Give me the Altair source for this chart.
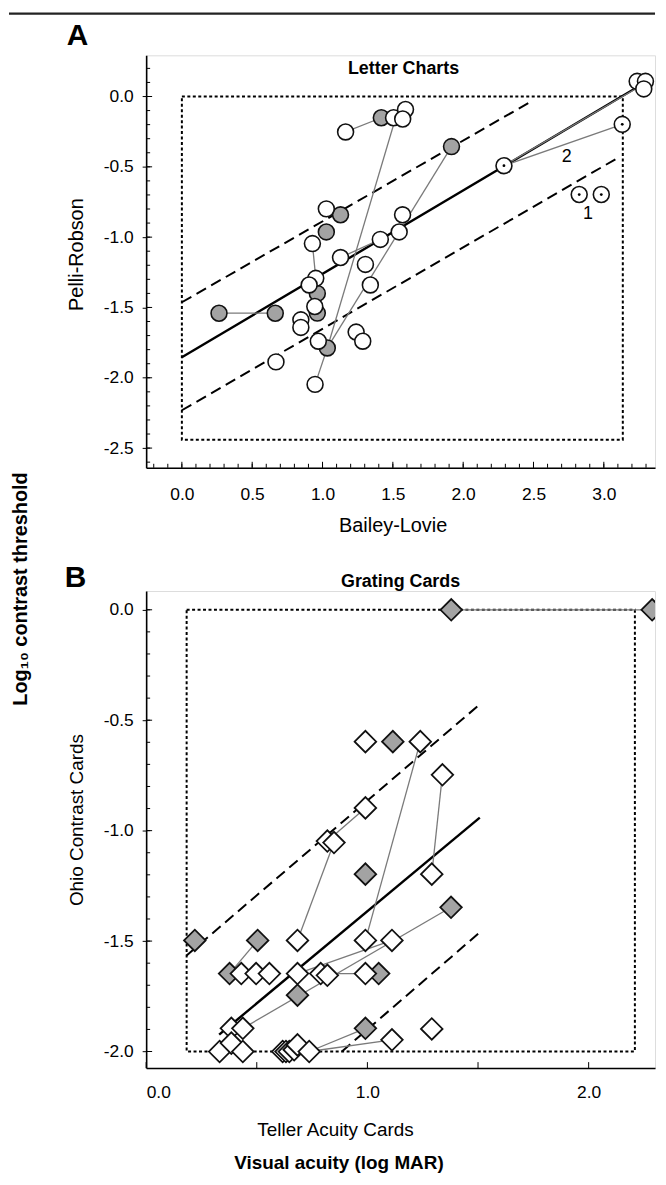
import altair as alt
import pandas as pd

FONT = "Liberation Sans"

# ---------------- Panel A : Letter Charts ----------------
a_white_x = [1.164, 1.505, 1.590, 1.570, 1.027, 1.411, 1.545, 1.569, 0.928, 1.128, 1.305, 1.340,
             0.952, 0.905, 0.945, 0.846, 0.846, 0.970, 1.239, 1.286, 0.669, 0.947, 3.237, 3.296, 3.284]
a_white_y = [-0.252, -0.151, -0.092, -0.160, -0.799, -1.016, -0.963, -0.841, -1.046, -1.145, -1.194, -1.340,
             -1.293, -1.340, -1.493, -1.588, -1.642, -1.740, -1.675, -1.740, -1.887, -2.047, 0.108, 0.108, 0.054]
a_grey_x = [1.418, 1.917, 1.128, 1.027, 0.963, 0.963, 0.264, 0.664, 1.034]
a_grey_y = [-0.151, -0.356, -0.841, -0.963, -1.400, -1.540, -1.541, -1.541, -1.788]
a_dot_x = [2.290, 3.131, 2.825, 2.982]
a_dot_y = [-0.492, -0.198, -0.697, -0.697]
a_seg_x1 = [1.164, 1.520, 1.917, 0.947, 0.264, 0.928, 1.128, 2.290, 2.290]
a_seg_y1 = [-0.252, -0.151, -0.356, -2.047, -1.541, -1.046, -1.145, -0.492, -0.492]
a_seg_x2 = [1.418, 1.034, 1.034, 1.034, 0.664, 0.952, 1.411, 3.131, 3.270]
a_seg_y2 = [-0.151, -1.788, -1.788, -1.788, -1.541, -1.293, -1.016, -0.198, 0.080]
a_fit_slope = [0.593, 0.575, 0.579]
a_fit_icpt = [-1.854, -1.463, -2.231]
a_fit_x0 = [0.0, 0.0, 0.0]
a_fit_x1 = [3.225, 2.488, 3.107]
a_fit_kind = ["solid", "dashed", "dashed"]
a_box = [0.0, 3.135, -2.44, 0.0]
a_note_x = [2.737, 2.888]
a_note_y = [-0.433, -0.834]
a_note_t = ["2", "1"]
a_xticks = [0.0, 0.5, 1.0, 1.5, 2.0, 2.5, 3.0]
a_yticks = [-2.5, -2.0, -1.5, -1.0, -0.5, 0.0]
a_xminor = [round(-0.2 + 0.1 * i, 1) for i in range(36)]
a_yminor = [round(-2.6 + 0.1 * i, 1) for i in range(29)]

# ---------------- Panel B : Grating Cards ----------------
b_white_x = [0.991, 1.239, 1.339, 0.991, 0.819, 0.849, 1.291, 0.684, 0.991, 1.111, 0.430, 0.497, 0.557,
             0.684, 0.789, 0.819, 0.991, 0.385, 0.437, 0.332, 0.385, 0.437, 0.617, 0.632, 0.647, 0.669,
             0.684, 0.737, 1.111, 1.291]
b_white_y = [-0.597, -0.597, -0.747, -0.897, -1.047, -1.054, -1.197, -1.497, -1.497, -1.497, -1.647, -1.647, -1.647,
             -1.647, -1.647, -1.655, -1.647, -1.895, -1.895, -2.000, -1.962, -2.000, -2.000, -2.000, -2.000, -1.992,
             -1.970, -2.000, -1.947, -1.898]
b_grey_x = [1.115, 0.991, 1.378, 0.220, 0.504, 0.377, 1.051, 0.684, 0.991, 1.379, 2.287]
b_grey_y = [-0.597, -1.197, -1.347, -1.497, -1.497, -1.647, -1.647, -1.745, -1.895, 0.0, 0.0]
b_seg_x1 = [0.377, 0.684, 0.819, 1.239, 1.339, 1.378, 1.111, 0.789, 0.737, 0.737, 1.379]
b_seg_y1 = [-1.647, -1.497, -1.047, -0.597, -0.747, -1.347, -1.497, -1.647, -2.000, -2.000, 0.0]
b_seg_x2 = [0.504, 0.849, 0.991, 0.991, 1.291, 0.437, 0.684, 0.991, 0.991, 1.111, 2.287]
b_seg_y2 = [-1.497, -1.054, -0.897, -1.497, -1.197, -1.895, -1.647, -1.647, -1.895, -1.947, 0.0]
b_fit_slope = [0.834, 0.858, 0.865]
b_fit_icpt = [-2.199, -1.722, -2.765]
b_fit_x0 = [0.33, 0.183, 0.885]
b_fit_x1 = [1.508, 1.508, 1.508]
b_fit_kind = ["solid", "dashed", "dashed"]
b_box = [0.183, 2.209, -2.0, 0.0]
b_xticks = [0.0, 0.5, 1.0, 1.5, 2.0]
b_yticks = [-2.0, -1.5, -1.0, -0.5, 0.0]
b_xminor = []
b_yminor = [round(-2.0 + 0.1 * i, 1) for i in range(21)]

GREY = "#a3a3a3"
LINE = "#7a7a7a"
LABEL_EXPR = "replace(format(datum.value, '.1f'), '\u2212', '-')"


def fit_frame(slope, icpt, x0, x1, kind):
    rows = []
    for s, b, u, v, k in zip(slope, icpt, x0, x1, kind):
        rows.append({"x": u, "y": s * u + b, "x2": v, "y2": s * v + b, "kind": k})
    return pd.DataFrame(rows)


def text_layer(txt, x, y, size, weight="normal", angle=0, align="center"):
    return alt.Chart(pd.DataFrame({"t": [txt]})).mark_text(
        font=FONT, fontSize=size, fontWeight=weight, angle=angle, align=align,
        baseline="middle", color="black"
    ).encode(x=alt.value(x), y=alt.value(y), text="t:N")


def tick_rules(X, Y, H, xs_list, ys_list, length):
    out = []
    if xs_list:
        out.append(alt.Chart(pd.DataFrame({"x": xs_list})).mark_rule(color="black", strokeWidth=1).encode(
            x=X(), y=alt.value(H), y2=alt.value(H - length)))
    if ys_list:
        out.append(alt.Chart(pd.DataFrame({"y": ys_list})).mark_rule(color="black", strokeWidth=1).encode(
            y=Y(), x=alt.value(0), x2=alt.value(length)))
    return out


def panel(W, H, xs, ys, xaxis, yaxis, box, fit, segs, grey, white, shape, size, sw,
          xminor, yminor, xmajor, ymajor, extra, clip_marks=False):
    X = lambda f="x": alt.X(f"{f}:Q", scale=xs, axis=xaxis)
    Y = lambda f="y": alt.Y(f"{f}:Q", scale=ys, axis=yaxis)
    layers = []
    bdf = pd.DataFrame({"x": [box[0]], "x2": [box[1]], "y": [box[2]], "y2": [box[3]]})
    layers.append(alt.Chart(bdf).mark_rect(fill=None, stroke="black", strokeWidth=2, strokeDash=[3, 2.5]).encode(
        x=X(), x2="x2:Q", y=Y(), y2="y2:Q"))
    layers.append(alt.Chart(fit[fit.kind == "dashed"]).mark_rule(color="black", strokeWidth=2, strokeDash=[11, 6]).encode(
        x=X(), x2="x2:Q", y=Y(), y2="y2:Q"))
    layers.append(alt.Chart(fit[fit.kind == "solid"]).mark_rule(color="black", strokeWidth=2.4).encode(
        x=X(), x2="x2:Q", y=Y(), y2="y2:Q"))
    layers.append(alt.Chart(segs).mark_rule(color=LINE, strokeWidth=1.3, clip=clip_marks).encode(
        x=X(), x2="x2:Q", y=Y(), y2="y2:Q"))
    layers.append(alt.Chart(grey).mark_point(shape=shape, filled=True, fill=GREY, stroke="#111", strokeWidth=sw,
                                             size=size, opacity=1, clip=clip_marks).encode(x=X(), y=Y()))
    layers.append(alt.Chart(white).mark_point(shape=shape, filled=True, fill="white", stroke="#111", strokeWidth=sw,
                                              size=size, opacity=1).encode(x=X(), y=Y()))
    layers.extend(tick_rules(X, Y, H, xminor, yminor, 4))
    layers.extend(tick_rules(X, Y, H, xmajor, ymajor, 6))
    layers.extend(extra(X, Y))
    return alt.layer(*layers).properties(width=W, height=H)


def axis(values, title, tx, ty, orient, tick, pad, tsize, expr=LABEL_EXPR):
    return alt.Axis(values=values, title=title, labelExpr=expr, orient=orient,
                    labelFont=FONT, labelFontSize=17.5, labelColor="black", labelPadding=pad,
                    ticks=tick > 0, tickSize=tick, tickColor="black", tickWidth=1,
                    domainColor="black", domainWidth=1.6,
                    grid=False, titleFont=FONT, titleFontSize=tsize, titleFontWeight="normal", titleColor="black",
                    titleX=tx, titleY=ty, titleBaseline="middle", titleAngle=270 if orient == "left" else 0,
                    titleAlign="center")


# ---- Panel A
WA, HA = 512, 415
xsA = alt.Scale(domain=[-0.254, 3.364], nice=False, zero=False)
ysA = alt.Scale(domain=[-2.64, 0.293], nice=False, zero=False)
segA = pd.DataFrame({"x": a_seg_x1, "y": a_seg_y1, "x2": a_seg_x2, "y2": a_seg_y2})
greyA = pd.DataFrame({"x": a_grey_x, "y": a_grey_y})
whiteA = pd.DataFrame({"x": a_white_x + a_dot_x, "y": a_white_y + a_dot_y})
fitA = fit_frame(a_fit_slope, a_fit_icpt, a_fit_x0, a_fit_x1, a_fit_kind)


def extraA(X, Y):
    dots = alt.Chart(pd.DataFrame({"x": a_dot_x, "y": a_dot_y})).mark_circle(color="black", size=8, opacity=1).encode(
        x=X(), y=Y())
    notes = alt.Chart(pd.DataFrame({"x": a_note_x, "y": a_note_y, "t": a_note_t})).mark_text(
        font=FONT, fontSize=18, color="black").encode(x=X(), y=Y(), text="t:N")
    top_rule = alt.Chart(pd.DataFrame({"a": [0]})).mark_rect(color="#222", strokeWidth=0).encode(
        x=alt.value(-138), x2=alt.value(WA), y=alt.value(-43), y2=alt.value(-40.8))
    return [dots, notes, top_rule,
            text_layer("A", -69, -19, 30, "bold"),
            text_layer("Letter Charts", 259, 14, 18, "bold")]


chartA = panel(WA, HA, xsA, ysA,
               axis(a_xticks, "Bailey-Lovie", 248, 58, "bottom", 0, 18, 20),
               axis(a_yticks, "Pelli-Robson", -70, 200, "left", 4, 9, 20),
               a_box, fitA, segA, greyA, whiteA, "circle", 256, 1.6,
               a_xminor, a_yminor, a_xticks, a_yticks, extraA)

# ---- Panel B
WB, HB = 512, 480
xsB = alt.Scale(domain=[0.0, 2.30], nice=False, zero=False)
ysB = alt.Scale(domain=[-2.075, 0.085], nice=False, zero=False)
segB = pd.DataFrame({"x": b_seg_x1, "y": b_seg_y1, "x2": b_seg_x2, "y2": b_seg_y2})
greyB = pd.DataFrame({"x": b_grey_x, "y": b_grey_y})
whiteB = pd.DataFrame({"x": b_white_x, "y": b_white_y})
fitB = fit_frame(b_fit_slope, b_fit_icpt, b_fit_x0, b_fit_x1, b_fit_kind)


def extraB(X, Y):
    return [text_layer("B", -71, -13, 30, "bold"),
            text_layer("Grating Cards", 256, -9, 18, "bold"),
            text_layer("Visual acuity (log MAR)", 194, 576, 19, "bold"),
            text_layer("Log\u2081\u2080 contrast threshold", -126, -2, 20, "bold", angle=270)]


B_EXPR = "datum.value % 1 == 0 ? format(datum.value, '.1f') : ''"
chartB = panel(WB, HB, xsB, ysB,
               axis(b_xticks, "Teller Acuity Cards", 190, 62, "bottom", 0, 16, 19, B_EXPR),
               axis(b_yticks, "Ohio Contrast Cards", -70, 230, "left", 4, 9, 19),
               b_box, fitB, segB, greyB, whiteB, "diamond", 470, 1.8,
               b_xminor, b_yminor, b_xticks, b_yticks, extraB,
               clip_marks=True)

chart = alt.vconcat(chartA, chartB, spacing=124, bounds="flush").properties(
    padding=0
).configure_view(stroke=None).configure(background="white")

chart.save("out.html", embed_options={"renderer": "svg", "actions": False})
